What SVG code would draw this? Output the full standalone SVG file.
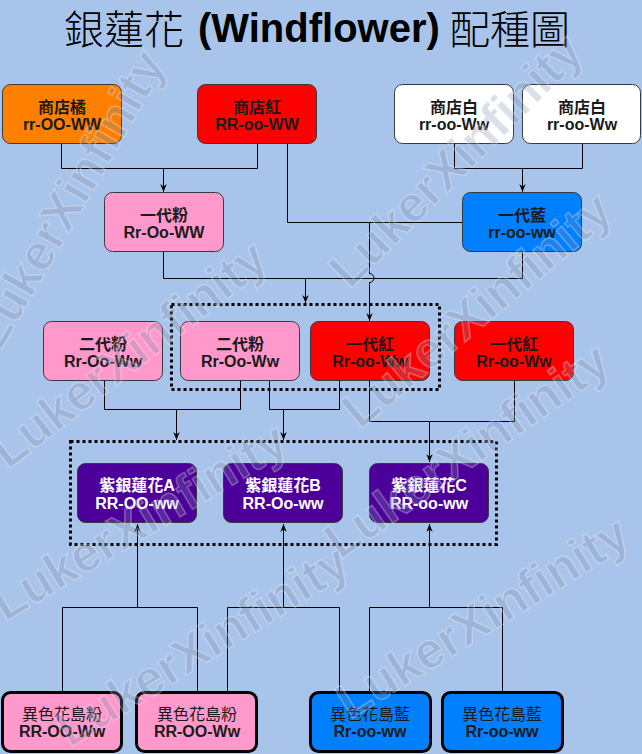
<svg xmlns="http://www.w3.org/2000/svg" width="642" height="754" viewBox="0 0 642 754">
  <defs>
    <style>
      .wm { font-family: 'Liberation Sans', sans-serif; font-weight: bold; font-size: 50px; fill: #7d8ca8; fill-opacity: 0.28; stroke: #ffffff; stroke-width: 1.5; stroke-opacity: 0.28; }
      .title-cjk { font-family: 'Noto Sans CJK TC', 'Noto Sans CJK SC', serif; font-size: 40px; font-weight: 300; fill: #000; }
      .title-lat { font-family: 'Liberation Sans', Arial, sans-serif; font-size: 40px; font-weight: bold; fill: #000; }
      .node rect { stroke: #36393d; stroke-width: 1; }
      .node text { font-family: 'Liberation Sans', 'Noto Sans CJK TC', sans-serif; font-size: 16px; font-weight: bold; fill: #1a1a1a; text-anchor: middle; }
      .purple rect { fill: #4c0099; }
      .purple text { fill: #ffffff; }
      .bold3 rect { stroke: #000; stroke-width: 3; }
      .bold3 text.cn { font-weight: normal; }
      .edge { fill: none; stroke: #000; stroke-width: 1; }
      .arrow { fill: none; stroke: #000; stroke-width: 1; marker-end: url(#arrowhead); }
      .group { fill: none; stroke: #000; stroke-width: 3; stroke-dasharray: 3 3; }
    </style>
    <marker id="arrowhead" viewBox="0 0 10 10" refX="10" refY="5" markerWidth="8" markerHeight="8" markerUnits="userSpaceOnUse" orient="auto">
      <path d="M0,1 L10,5 L0,9 L3,5 z" fill="#000"/>
    </marker>
  </defs>

  <!-- background -->
  <rect x="0" y="0" width="642" height="754" fill="#a9c4eb"/>

  <!-- title -->
  <g id="title">
    <text class="title-cjk" x="64" y="44">銀蓮花</text>
    <text class="title-lat" x="198" y="42">(Windflower)</text>
    <text class="title-cjk" x="450" y="44">配種圖</text>
  </g>

  <!-- group frames -->
  <g id="groups">
    <rect class="group" x="171.5" y="304.5" width="268" height="85"/>
    <rect class="group" x="70.5" y="441.5" width="426" height="103"/>
  </g>

  <!-- connectors -->
  <g id="connectors">
    <!-- shop orange x shop red -> first pink -->
    <path class="edge" d="M61.5,144 V168.5 H257.5 V144"/>
    <path class="arrow" d="M163.5,168.5 V192"/>
    <!-- shop white x shop white -> first blue -->
    <path class="edge" d="M454.5,144 V168.5 H582.5 V144"/>
    <path class="arrow" d="M522.5,168.5 V192"/>
    <!-- shop red x first blue -> first red -->
    <path class="edge" d="M287.5,144 V222.5 H462"/>
    <path class="arrow" d="M369.5,222.5 V273.5 A4.5,4.5 0 0 1 369.5,282.5 V321"/>
    <!-- first pink x first blue -> group 1 -->
    <path class="edge" d="M163.5,252 V278.5 H522.5 V252"/>
    <path class="arrow" d="M305.5,278.5 V303"/>
    <!-- second pink x second pink -> A -->
    <path class="edge" d="M104.5,381 V409.5 H240.5 V381"/>
    <path class="arrow" d="M176.5,409.5 V440"/>
    <!-- second pink x first red -> B -->
    <path class="edge" d="M269.5,381 V409.5 H339.5 V381"/>
    <path class="arrow" d="M283.5,409.5 V440"/>
    <!-- first red x first red -> C -->
    <path class="edge" d="M369.5,381 V421.5 H514.5 V381"/>
    <path class="arrow" d="M429.5,421.5 V462"/>
    <!-- island pink x island pink -> A -->
    <path class="edge" d="M62.5,691 V607.5 H197.5 V691"/>
    <path class="arrow" d="M137.5,607.5 V524"/>
    <!-- island pink x island blue -> B -->
    <path class="edge" d="M227.5,691 V607.5 H339.5 V691"/>
    <path class="arrow" d="M283.5,607.5 V524"/>
    <!-- island blue x island blue -> C -->
    <path class="edge" d="M369.5,691 V607.5 H502.5 V691"/>
    <path class="arrow" d="M429.5,607.5 V524"/>
  </g>

  <!-- row 1: shop flowers -->
  <g id="shop-orange" class="node">
    <rect x="2.5" y="84.5" width="119" height="59" rx="8" fill="#ff8000"/>
    <text x="62" y="113">商店橘</text>
    <text x="62" y="130">rr-OO-WW</text>
  </g>
  <g id="shop-red" class="node">
    <rect x="197.5" y="84.5" width="119" height="59" rx="8" fill="#ff0000"/>
    <text x="257" y="113">商店紅</text>
    <text x="257" y="130">RR-oo-WW</text>
  </g>
  <g id="shop-white-1" class="node">
    <rect x="394.5" y="84.5" width="119" height="59" rx="8" fill="#ffffff"/>
    <text x="454" y="113">商店白</text>
    <text x="454" y="130">rr-oo-Ww</text>
  </g>
  <g id="shop-white-2" class="node">
    <rect x="522.5" y="84.5" width="118" height="59" rx="8" fill="#ffffff"/>
    <text x="582" y="113">商店白</text>
    <text x="582" y="130">rr-oo-Ww</text>
  </g>

  <!-- row 2: first generation -->
  <g id="gen1-pink" class="node">
    <rect x="104.5" y="192.5" width="119" height="59" rx="8" fill="#ff99cc"/>
    <text x="164" y="221">一代粉</text>
    <text x="164" y="238">Rr-Oo-WW</text>
  </g>
  <g id="gen1-blue" class="node">
    <rect x="462.5" y="192.5" width="119" height="59" rx="8" fill="#007fff"/>
    <text x="522" y="221">一代藍</text>
    <text x="522" y="238">rr-oo-ww</text>
  </g>

  <!-- row 3 -->
  <g id="gen2-pink-1" class="node">
    <rect x="43.5" y="321.5" width="119" height="59" rx="8" fill="#ff99cc"/>
    <text x="103" y="350">二代粉</text>
    <text x="103" y="367">Rr-Oo-Ww</text>
  </g>
  <g id="gen2-pink-2" class="node">
    <rect x="180.5" y="321.5" width="119" height="59" rx="8" fill="#ff99cc"/>
    <text x="240" y="350">二代粉</text>
    <text x="240" y="367">Rr-Oo-Ww</text>
  </g>
  <g id="gen1-red-1" class="node">
    <rect x="310.5" y="321.5" width="119" height="59" rx="8" fill="#ff0000"/>
    <text x="370" y="350">一代紅</text>
    <text x="370" y="367">Rr-oo-Ww</text>
  </g>
  <g id="gen1-red-2" class="node">
    <rect x="454.5" y="321.5" width="119" height="59" rx="8" fill="#ff0000"/>
    <text x="514" y="350">一代紅</text>
    <text x="514" y="367">Rr-oo-Ww</text>
  </g>

  <!-- row 4: purple results -->
  <g id="purple-a" class="node purple">
    <rect x="77.5" y="463.5" width="119" height="59" rx="8"/>
    <text x="137" y="491">紫銀蓮花A</text>
    <text x="137" y="509">RR-OO-ww</text>
  </g>
  <g id="purple-b" class="node purple">
    <rect x="223.5" y="463.5" width="119" height="59" rx="8"/>
    <text x="283" y="491">紫銀蓮花B</text>
    <text x="283" y="509">RR-Oo-ww</text>
  </g>
  <g id="purple-c" class="node purple">
    <rect x="369.5" y="463.5" width="119" height="59" rx="8"/>
    <text x="429" y="491">紫銀蓮花C</text>
    <text x="429" y="509">RR-oo-ww</text>
  </g>

  <!-- row 5: island flowers -->
  <g id="island-pink-1" class="node bold3">
    <rect x="2.5" y="692.5" width="119" height="59" rx="8" fill="#ff99cc"/>
    <text class="cn" x="62" y="720">異色花島粉</text>
    <text x="62" y="737">RR-OO-Ww</text>
  </g>
  <g id="island-pink-2" class="node bold3">
    <rect x="136.5" y="692.5" width="120" height="59" rx="8" fill="#ff99cc"/>
    <text class="cn" x="197" y="720">異色花島粉</text>
    <text x="197" y="737">RR-OO-Ww</text>
  </g>
  <g id="island-blue-1" class="node bold3">
    <rect x="310.5" y="692.5" width="120" height="59" rx="8" fill="#007fff"/>
    <text class="cn" x="370" y="720">異色花島藍</text>
    <text x="370" y="737">Rr-oo-ww</text>
  </g>
  <g id="island-blue-2" class="node bold3">
    <rect x="442.5" y="692.5" width="120" height="59" rx="8" fill="#007fff"/>
    <text class="cn" x="502" y="720">異色花島藍</text>
    <text x="502" y="737">Rr-oo-ww</text>
  </g>

  <!-- watermark, laid over the whole drawing -->
  <g id="watermark">
    <text class="wm" transform="translate(350,290) rotate(-45)">LukerXinfinity</text>
    <text class="wm" transform="translate(5,622) rotate(-31)">LukerXinfinity</text>
    <text class="wm" transform="translate(70,748) rotate(-32)">LukerXinfinity</text>
    <text class="wm" transform="translate(0,352) rotate(-60)">LukerXinfinity</text>
    <text class="wm" transform="translate(8,470) rotate(-38)">LukerXinfinity</text>
    <text class="wm" transform="translate(340,560) rotate(-35)">LukerXinfinity</text>
    <text class="wm" transform="translate(350,720) rotate(-32)">LukerXinfinity</text>
    <text class="wm" transform="translate(360,430) rotate(-40)">LukerXinfinity</text>
  </g>
</svg>
